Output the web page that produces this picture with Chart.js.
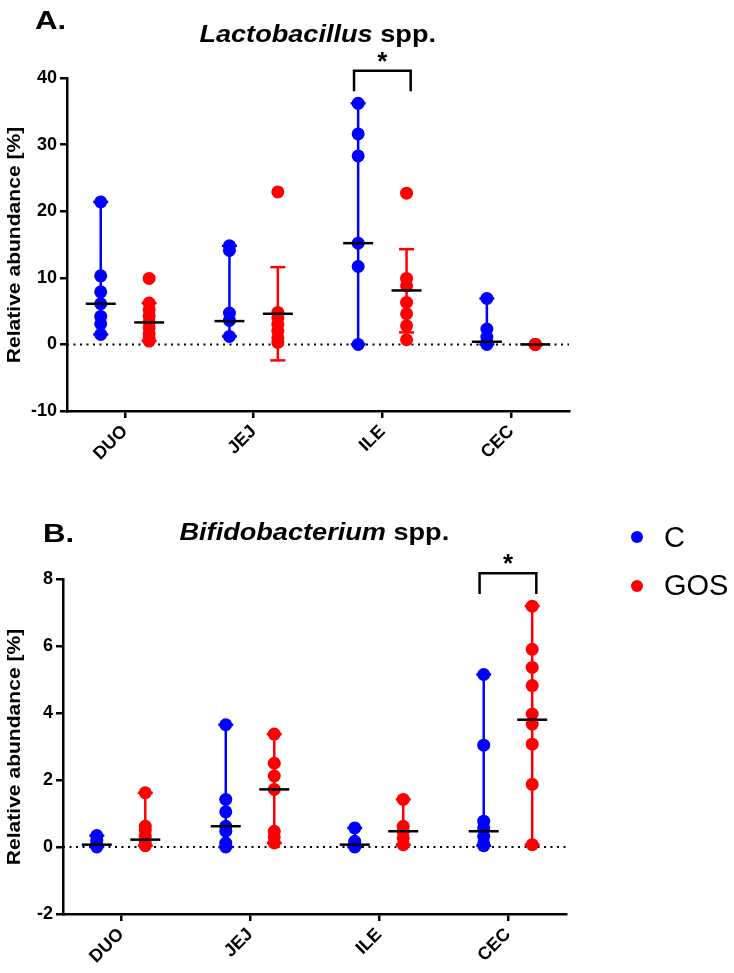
<!DOCTYPE html>
<html>
<head>
<meta charset="utf-8">
<script src="https://cdn.jsdelivr.net/npm/chart.js@4.4.0/dist/chart.umd.min.js"></script>
<style>
body { margin: 0; background: #fff; font-family: "Liberation Sans", Arial, sans-serif; }
#page { position: relative; width: 734px; height: 973px; overflow: hidden; }
.box { position: absolute; left: 0; width: 600px; }
.panel { position: absolute; font-weight: bold; font-size: 26px; line-height: 1; transform: scaleX(1.2); transform-origin: left top; }
.title { position: absolute; font-weight: bold; font-size: 24px; line-height: 1; text-align: center; white-space: nowrap; }
.title span { display: inline-block; transform: scaleX(1.13); }
.ytitle { position: absolute; width: 340px; margin-left: -170px; text-align: center; font-weight: bold; font-size: 18px;
          line-height: 1; white-space: nowrap; transform: rotate(-90deg) scaleX(1.17); }
.leg { position: absolute; font-size: 29px; line-height: 1; }
.dot { position: absolute; width: 12px; height: 12px; border-radius: 50%; }
</style>
</head>
<body>
<div id="page">
  <div class="box" style="top:0; height:480px;"><canvas id="chartA"></canvas></div>
  <div class="box" style="top:480px; height:493px;"><canvas id="chartB"></canvas></div>

  <div class="panel" style="left:35px; top:7px;">A.</div>
  <div class="title" style="left:67px; width:502px; top:22px;"><span><i>Lactobacillus</i> spp.</span></div>
  <div class="ytitle" style="left:14px; top:236px;">Relative abundance [%]</div>

  <div class="panel" style="left:43px; top:520px;">B.</div>
  <div class="title" style="left:63px; width:503px; top:520px;"><span><i>Bifidobacterium</i> spp.</span></div>
  <div class="ytitle" style="left:14px; top:738px;">Relative abundance [%]</div>

  <div class="dot" style="left:631px; top:531px; background:#0000ff;"></div>
  <div class="leg" style="left:664px; top:523px;">C</div>
  <div class="dot" style="left:631px; top:580px; background:#ff0000;"></div>
  <div class="leg" style="left:664px; top:571px;">GOS</div>
</div>

<script>
// sections of the gut
const regions = ["DUO", "JEJ", "ILE", "CEC"];

// Lactobacillus spp. (%), one list per region
const lactoC = [
    [21.4, 10.3, 7.9, 6.1, 4.2, 3.1, 1.5],
    [14.8, 14.1, 4.7, 3.6, 1.2],
    [36.2, 31.6, 28.3, 15.2, 11.7, 0.0],
    [6.9, 2.3, 1.1, 0.4, 0.0]
];
const lactoGOS = [
    [9.9, 6.2, 5.2, 4.3, 3.4, 2.5, 1.6, 0.9, 0.5],
    [22.9, 4.8, 4.0, 3.0, 2.0, 1.0, 0.3],
    [22.7, 9.9, 8.8, 6.3, 4.6, 2.8, 0.7],
    [0.0, 0.0, 0.0]
];
const lactoCMedian = [6.1, 3.5, 15.2, 0.4];
const lactoGOSMedian = [3.3, 4.6, 8.1, 0.0];
const lactoCBars = [[1.5, 21.4], [1.2, 14.8], [0.0, 36.2], [0.0, 6.9]];
const lactoGOSBars = [[0.5, 6.2], [-2.4, 11.6], [1.8, 14.3], [0.0, 0.0]];

// Bifidobacterium spp. (%)
const bifidoC = [
    [0.34, 0.2, 0.1, 0.05, 0.0],
    [3.65, 1.42, 1.05, 0.62, 0.47, 0.12, 0.0],
    [0.57, 0.17, 0.1, 0.04, 0.0],
    [5.15, 3.04, 0.77, 0.57, 0.32, 0.1, 0.04]
];
const bifidoGOS = [
    [1.62, 0.62, 0.5, 0.32, 0.12, 0.04],
    [3.37, 2.5, 2.12, 1.72, 0.47, 0.3, 0.12],
    [1.42, 0.62, 0.47, 0.27, 0.07],
    [7.19, 5.9, 5.36, 4.82, 3.97, 3.67, 3.07, 1.87, 0.07]
];
const bifidoCMedian = [0.07, 0.62, 0.07, 0.47];
const bifidoGOSMedian = [0.22, 1.72, 0.47, 3.8];
const bifidoCBars = [[0.0, 0.34], [0.0, 3.65], [0.0, 0.57], [0.04, 5.15]];
const bifidoGOSBars = [[0.04, 1.62], [0.12, 3.37], [0.07, 1.42], [0.07, 7.19]];

// significance brackets: region index, bottom, top
const lactoSig = [2, 38.0, 41.1];
const bifidoSig = [3, 7.55, 8.17];

const yTicksA = { min: -10, max: 40, step: 10 };
const yTicksB = { min: -2, max: 8, step: 2 };

const BLUE = "#0000ff";
const RED = "#ff0000";
const OFF = 0.188;
const FONT = "'Liberation Sans', Arial, sans-serif";

const starPlugin = {
    id: "star",
    afterDatasetsDraw(chart) {
        const sig = chart.options.plugins.star.sig;
        const ctx = chart.ctx;
        const xs = chart.scales.x, ys = chart.scales.y;
        ctx.save();
        ctx.fillStyle = "#000";
        ctx.font = "bold 26px " + FONT;
        ctx.textAlign = "center";
        ctx.textBaseline = "bottom";
        ctx.fillText("*", xs.getPixelForValue(sig[0]), ys.getPixelForValue(sig[2]) + 5);
        ctx.restore();
    }
};

function buildChart(id, cVals, gVals, cMed, gMed, cBars, gBars, sig, yt, geo) {
    let datasets = [];

    // median lines on top
    [[cMed, -OFF], [gMed, OFF]].forEach(([med, off]) => {
        datasets.push({
            type: "scatter", order: 0, clip: false,
            data: med.map((v, i) => ({ x: i + off, y: v })),
            pointStyle: "line", pointRadius: 15, pointHoverRadius: 15,
            borderColor: "#000", pointBorderWidth: 2.5, borderWidth: 2.5
        });
    });

    // dots
    [[cVals, -OFF, BLUE], [gVals, OFF, RED]].forEach(([vals, off, col]) => {
        let pts = [];
        vals.forEach((list, i) => list.forEach(v => pts.push({ x: i + off, y: v })));
        datasets.push({
            type: "scatter", order: 1, clip: false,
            data: pts,
            pointRadius: 6.5, pointHoverRadius: 6.5,
            backgroundColor: col, borderColor: col, pointBorderWidth: 0
        });
    });

    // whiskers with caps
    [[cBars, -OFF, BLUE], [gBars, OFF, RED]].forEach(([bars, off, col]) => {
        bars.forEach((b, i) => {
            datasets.push({
                type: "line", order: 2, clip: false,
                data: [{ x: i + off, y: b[0] }, { x: i + off, y: b[1] }],
                borderColor: col, borderWidth: 2.5,
                pointStyle: "line", pointRadius: 7.5, pointBorderWidth: 2.5,
                pointBorderColor: col
            });
        });
    });

    // dotted zero line
    datasets.push({
        type: "line", order: 3,
        data: [{ x: -0.45, y: 0 }, { x: 3.45, y: 0 }],
        borderColor: "#000", borderWidth: 2, borderDash: [2, 4.5], pointRadius: 0
    });

    // bracket
    datasets.push({
        type: "line", order: 0, clip: false,
        data: [
            { x: sig[0] - 0.22, y: sig[1] }, { x: sig[0] - 0.22, y: sig[2] },
            { x: sig[0] + 0.22, y: sig[2] }, { x: sig[0] + 0.22, y: sig[1] }
        ],
        borderColor: "#000", borderWidth: 2.5, pointRadius: 0
    });

    return new Chart(id, {
        type: "scatter",
        data: { datasets: datasets },
        plugins: [starPlugin],
        options: {
            responsive: true,
            maintainAspectRatio: false,
            animation: false,
            events: [],
            layout: { padding: { top: geo.top, right: geo.right, left: 0, bottom: 0 } },
            plugins: {
                legend: { display: false },
                tooltip: { enabled: false },
                star: { sig: sig }
            },
            scales: {
                x: {
                    type: "linear", min: -0.45, max: 3.45,
                    afterFit: s => { s.height = geo.xh; },
                    afterBuildTicks: s => { s.ticks = regions.map((r, i) => ({ value: i })); },
                    grid: { drawOnChartArea: false, drawTicks: true, tickLength: 7, color: "#000", lineWidth: 2.5 },
                    border: { display: true, color: "#000", width: 2.5 },
                    ticks: {
                        autoSkip: false, minRotation: 45, maxRotation: 45, padding: 3,
                        color: "#000", font: { family: FONT, size: 18, weight: "bold" },
                        callback: v => regions[v]
                    }
                },
                y: {
                    min: yt.min, max: yt.max,
                    afterFit: s => { s.width = geo.yw; },
                    grid: { drawOnChartArea: false, drawTicks: true, tickLength: 7, color: "#000", lineWidth: 2.5 },
                    border: { display: true, color: "#000", width: 2.5 },
                    ticks: {
                        stepSize: yt.step, padding: 3, color: "#000",
                        font: { family: FONT, size: 18, weight: "bold" }
                    }
                }
            }
        }
    });
}

buildChart("chartA", lactoC, lactoGOS, lactoCMedian, lactoGOSMedian, lactoCBars, lactoGOSBars,
    lactoSig, yTicksA, { top: 78, right: 31, yw: 67, xh: 69 });
buildChart("chartB", bifidoC, bifidoGOS, bifidoCMedian, bifidoGOSMedian, bifidoCBars, bifidoGOSBars,
    bifidoSig, yTicksB, { top: 99, right: 34, yw: 63, xh: 59 });
</script>
</body>
</html>
